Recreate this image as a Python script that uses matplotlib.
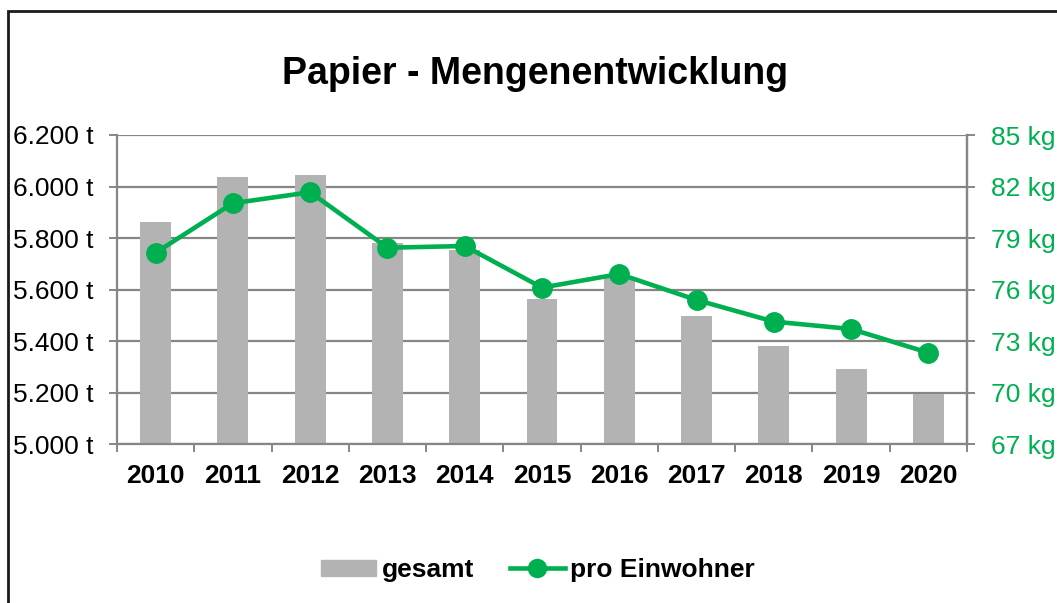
import matplotlib
matplotlib.use("Agg")
import matplotlib.pyplot as plt
import matplotlib.patches as mpatches
from matplotlib.ticker import FuncFormatter, FixedLocator
import numpy as np

plt.rcParams['font.family'] = ['Liberation Sans', 'DejaVu Sans']

years = ["2010", "2011", "2012", "2013", "2014", "2015", "2016", "2017", "2018", "2019", "2020"]
gesamt_t = [5864, 6036, 6044, 5780, 5754, 5563, 5644, 5498, 5380, 5292, 5194]
pro_einwohner_kg = [78.15, 81.03, 81.67, 78.44, 78.54, 76.12, 76.91, 75.4, 74.14, 73.71, 72.33]
left_ticks = [5000, 5200, 5400, 5600, 5800, 6000, 6200]
right_ticks = [67, 70, 73, 76, 79, 82, 85]

GREEN = "#00B050"
BARC = "#B3B3B3"
GRID = "#868686"

W, H = 1057, 603
fig = plt.figure(figsize=(W / 100, H / 100), dpi=100)

ax = fig.add_axes([117 / W, 1 - 444.3 / H, (967 - 117) / W, (444.3 - 135) / H])
x = np.arange(len(years))
ax.bar(x, gesamt_t, width=0.4, color=BARC, zorder=2)
ax.set_ylim(left_ticks[0], left_ticks[-1])
ax.set_xlim(-0.5, len(years) - 0.5)
ax.set_yticks(left_ticks)
ax.yaxis.set_major_formatter(FuncFormatter(lambda v, p: f"{v:,.0f} t".replace(",", ".")))
ax.grid(axis='y', color=GRID, linewidth=1.6, zorder=0)
ax.set_axisbelow(True)
ax.set_xticks(x)
ax.set_xticklabels(years, fontsize=19, fontweight='bold')
ax.xaxis.set_minor_locator(FixedLocator(np.arange(-0.5, len(years), 1.0)))
ax.tick_params(axis='x', which='major', length=0, pad=14)
ax.tick_params(axis='x', which='minor', length=6, width=1.4, color=GRID, direction='out')
ax.tick_params(axis='y', labelsize=19, length=6, width=1.4, color=GRID, pad=11, labelcolor='black')
ax.spines['top'].set_visible(False)
for s in ['left', 'bottom', 'right']:
    ax.spines[s].set_color(GRID)
    ax.spines[s].set_linewidth(1.6)

ax2 = ax.twinx()
ax2.plot(x, pro_einwohner_kg, color=GREEN, linewidth=3.3, marker='o', markersize=14, zorder=3)
ax2.set_ylim(right_ticks[0], right_ticks[-1])
ax2.set_yticks(right_ticks)
ax2.yaxis.set_major_formatter(FuncFormatter(lambda v, p: f"{v:.0f} kg"))
ax2.tick_params(axis='y', labelsize=19, length=6, width=1.4, color=GRID, pad=11, labelcolor=GREEN)
for s in ['top', 'left', 'bottom']:
    ax2.spines[s].set_visible(False)
ax2.spines['right'].set_color(GRID)
ax2.spines['right'].set_linewidth(1.6)

fig.text(535 / W, 1 - 74 / H, "Papier - Mengenentwicklung", ha='center', va='center',
         fontsize=27, fontweight='bold')

h1 = mpatches.Patch(color=BARC)
h2 = plt.Line2D([], [], color=GREEN, linewidth=3.3, marker='o', markersize=13)
leg = fig.legend([h1, h2], ["gesamt", "pro Einwohner"], loc='center', bbox_to_anchor=(538 / W, 1 - 570 / H),
                 ncol=2, frameon=False, prop={'size': 19, 'weight': 'bold'},
                 handlelength=2.1, handletextpad=0.2, columnspacing=1.35, handleheight=0.55)

frame = mpatches.Rectangle((8 / W, -0.1), 2.0, (1 - 11.5 / H) + 0.1, transform=fig.transFigure,
                           fill=False, edgecolor='#1a1a1a', linewidth=2)
fig.patches.append(frame)

fig.savefig("out.png", dpi=100)
